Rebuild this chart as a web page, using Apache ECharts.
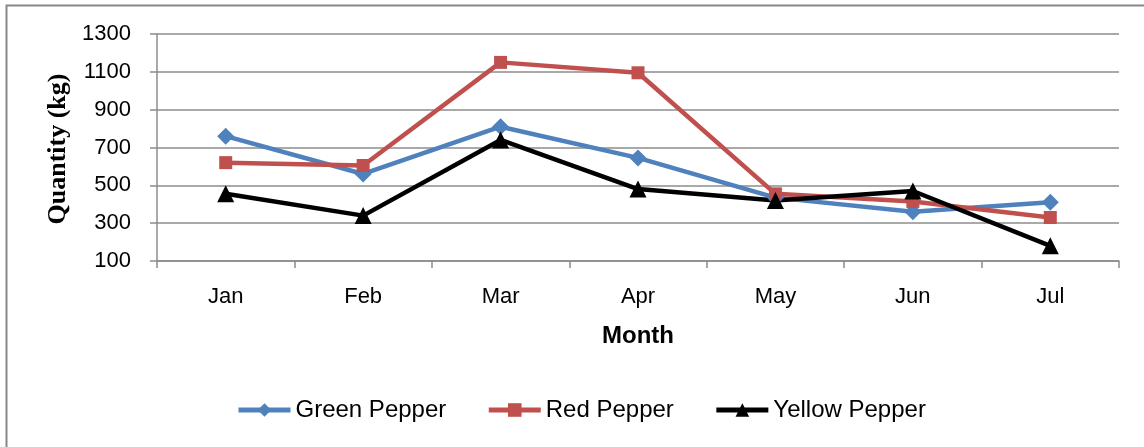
<!DOCTYPE html>
<html><head><meta charset="utf-8">
<script src="https://cdn.jsdelivr.net/npm/echarts@6/dist/echarts.min.js"></script>
<style>html,body{margin:0;padding:0;background:#fff}#c{width:1144px;height:447px}</style>
</head><body><div id="c"></div>
<script>
const months = ['Jan','Feb','Mar','Apr','May','Jun','Jul'];
const greenPepper = [760, 560, 810, 645, 435, 360, 410];
const redPepper = [620, 605, 1150, 1095, 455, 415, 330];
const yellowPepper = [455, 340, 740, 480, 420, 470, 180];
const seriesNames = ['Green Pepper','Red Pepper','Yellow Pepper'];
const yTicks = [100, 300, 500, 700, 900, 1100, 1300];

const chart = echarts.init(document.getElementById('c'));
const grey = '#8c8c8c';
const mk = (name, data, color, symbol, size) => ({
  name, type: 'line', data, symbol, symbolSize: size,
  lineStyle: {color, width: 4.5}, itemStyle: {color},
  animation: false
});
chart.setOption({
  backgroundColor: '#fff',
  animation: false,
  grid: {left: 157, right: 25, top: 34, bottom: 186},
  xAxis: {
    type: 'category', data: months, boundaryGap: true,
    axisLine: {lineStyle: {color: grey, width: 1.5}},
    axisTick: {show: true, length: 7, lineStyle: {color: grey, width: 1.5}},
    axisLabel: {color: '#000', fontFamily: 'Liberation Sans', fontSize: 22, margin: 25}
  },
  yAxis: {
    type: 'value', min: yTicks[0], max: yTicks[yTicks.length-1], interval: 200,
    axisLine: {show: true, lineStyle: {color: grey, width: 1.5}},
    axisTick: {show: true, length: 7, lineStyle: {color: grey, width: 1.5}},
    splitLine: {lineStyle: {color: grey, width: 1.5}},
    axisLabel: {color: '#000', fontFamily: 'Liberation Sans', fontSize: 22, margin: 26, formatter: v => String(v)}
  },
  legend: {
    data: seriesNames, top: 393, left: 231, itemGap: 40,
    itemWidth: 52, itemHeight: 17,
    lineStyle: {width: 5},
    textStyle: {fontFamily: 'Liberation Sans', fontSize: 24, color: '#000'}
  },
  graphic: [
    {type: 'polyline', shape: {points: [[6.5, 447], [6.5, 5.5], [1144, 5.5]]}, style: {stroke: '#888', lineWidth: 2, fill: null}},
    {type: 'text', x: 58, y: 149, rotation: Math.PI/2, style: {text: 'Quantity (kg)', font: 'bold 26px "Liberation Serif"', fill: '#000', textAlign: 'center', textVerticalAlign: 'middle'}},
    {type: 'text', x: 638, y: 336, style: {text: 'Month', font: 'bold 24px "Liberation Sans"', fill: '#000', textAlign: 'center', textVerticalAlign: 'middle'}}
  ],
  series: [
    mk(seriesNames[0], greenPepper, '#4F81BD', 'diamond', 17),
    mk(seriesNames[1], redPepper, '#C0504D', 'rect', 13),
    mk(seriesNames[2], yellowPepper, '#000000', 'triangle', 17)
  ]
});
</script></body></html>
